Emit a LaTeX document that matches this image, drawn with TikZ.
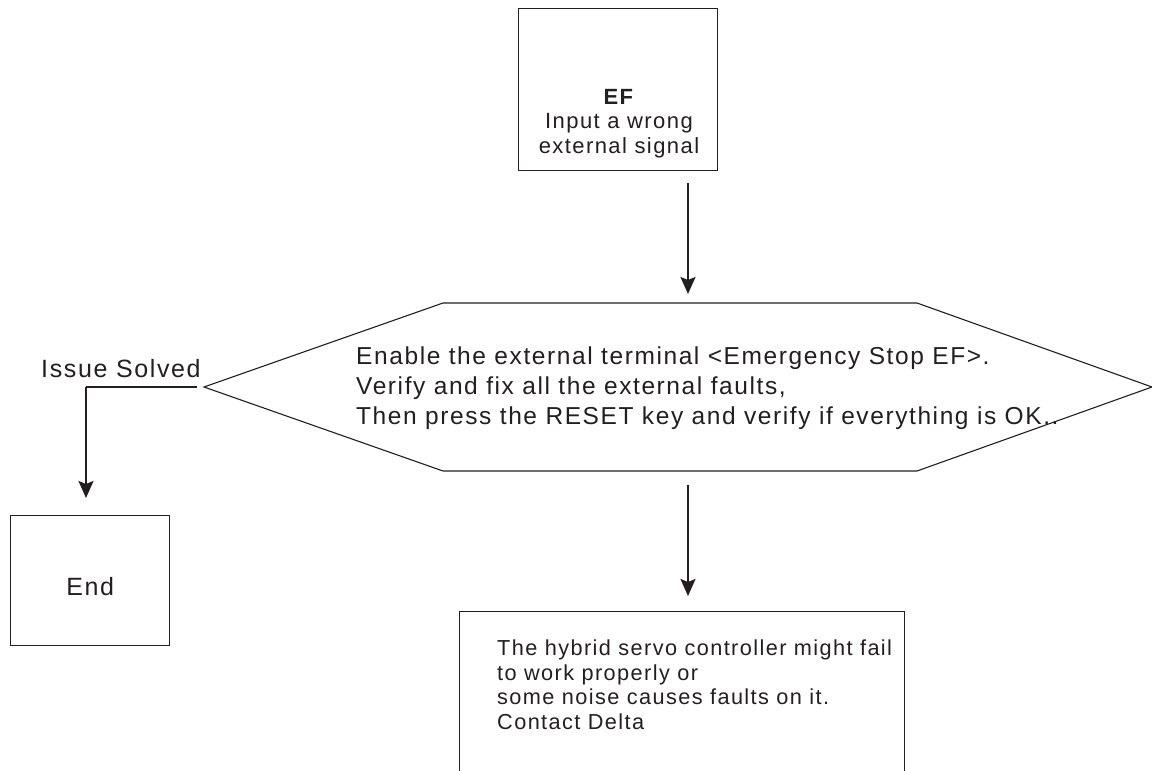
\documentclass[tikz,border=0pt]{standalone}
\usepackage{fontspec}
\setmainfont{Liberation Sans}[LetterSpace=6.5]
\usetikzlibrary{arrows.meta}
\definecolor{ink}{HTML}{231F20}
\begin{document}
\begin{tikzpicture}[x=1pt,y=-1pt,
  box/.style={draw=ink, line width=1.3pt, inner sep=0pt, anchor=north west},
  txt/.style={text=ink, inner sep=0pt, font=\fontsize{25}{30}\selectfont},
  arr/.style={draw=ink, line width=2pt, -{Stealth[length=17pt,width=15pt,inset=3pt]}},
  thin/.style={draw=ink, line width=1.3pt},
]
\useasboundingbox (0,0) rectangle (1152,771);
\clip (0,0) rectangle (1152,771);
\fill[white] (0,0) rectangle (1152,771);

% top box
\node[box, minimum width=199pt, minimum height=162pt] (top) at (518,8) {};
\node[txt, align=center, anchor=base, font=\fontsize{22}{24.5}\selectfont] (toptext) at (619,153)
  {\textbf{EF}\\Input a wrong\\external signal};

% hexagon
\coordinate (hexW) at (204,387);
\coordinate (hexNW) at (443,303);
\coordinate (hexNE) at (917,303);
\coordinate (hexE) at (1152,387);
\coordinate (hexSE) at (917,471);
\coordinate (hexSW) at (443,471);
\draw[thin, line width=1.1pt] (hexW) -- (hexNW) -- (hexNE) -- (hexE) -- (hexSE) -- (hexSW) -- cycle;
\node[txt, align=left, anchor=base west, font=\fontsize{24.5}{30}\selectfont] (hextext) at (356,424)
  {Enable the external terminal <Emergency Stop EF>.\\Verify and fix all the external faults,\\Then press the RESET key and verify if everything is OK..};

% issue solved branch
\node[txt, anchor=base west] (solved) at (41,377) {Issue Solved};
\node[box, minimum width=159pt, minimum height=130pt, text height=30pt, txt] (endbox) at (10,515) {End};
\coordinate (l1) at (197,387);
\coordinate (l2) at (86,387);
\coordinate (l3) at (86,498);
\draw[thin] (l1) -- (l2);
\draw[arr] (l2) -- (l3);

% bottom box
\node[box, minimum width=445pt, minimum height=220pt] (bottom) at (459,611) {};
\node[txt, align=left, anchor=base west, font=\fontsize{21.7}{24.5}\selectfont] (bottext) at (497,729)
  {The hybrid servo controller might fail\\to work properly or\\some noise causes faults on it.\\Contact Delta};

% arrows
\coordinate (a1s) at (688,183);
\coordinate (a1e) at (688,294);
\draw[arr] (a1s) -- (a1e);
\coordinate (a2s) at (688,485);
\coordinate (a2e) at (688,596);
\draw[arr] (a2s) -- (a2e);
\end{tikzpicture}
\end{document}
